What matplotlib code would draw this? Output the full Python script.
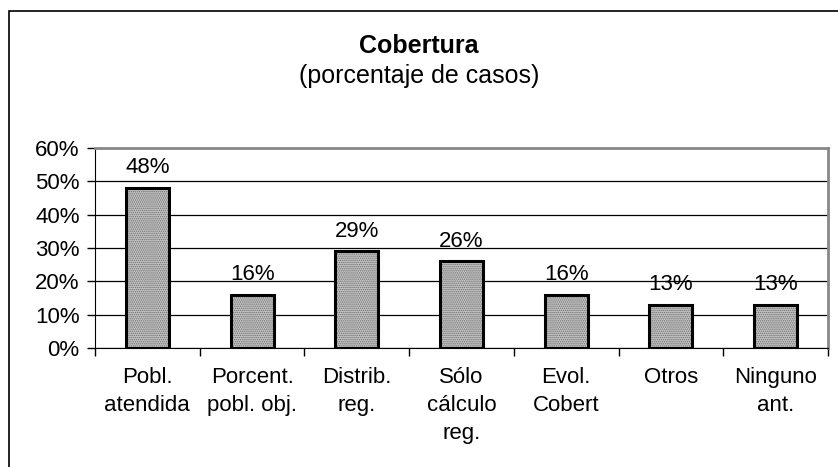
import matplotlib
matplotlib.use("Agg")
import matplotlib.pyplot as plt
from matplotlib.patches import Rectangle

categories = ["Pobl.\natendida", "Porcent.\npobl. obj.", "Distrib.\nreg.", "Sólo\ncálculo\nreg.",
              "Evol.\nCobert", "Otros", "Ninguno\nant."]
values = [48, 16, 29, 26, 16, 13, 13]
yticks = [0, 10, 20, 30, 40, 50, 60]

plt.rcParams['font.family'] = ['Liberation Sans', 'DejaVu Sans']
plt.rcParams['hatch.linewidth'] = 0.7
W, H = 838, 467
fig = plt.figure(figsize=(W/100, H/100), dpi=100)

# outer chart frame
fig.patches.append(Rectangle((9/W, -0.1), 1.2, (H-11)/H + 0.1, transform=fig.transFigure,
                             fill=False, edgecolor='black', linewidth=1.2))

ax = fig.add_axes([95/W, 1-348/H, (828-95)/W, 200/H])
x = list(range(len(values)))
ax.bar(x, values, width=0.41, color='#c4c4c4', edgecolor='#6e6e6e', linewidth=0,
       hatch='........', zorder=3)
ax.bar(x, values, width=0.41, fill=False, edgecolor='black', linewidth=2.2, zorder=4)
for xi, v in zip(x, values):
    ax.text(xi, v + 2.9, f"{v}%", ha='center', va='bottom', fontsize=16)

ax.set_xlim(-0.5, len(values)-0.5)
ax.set_ylim(0, 60)
ax.set_yticks(yticks)
ax.set_yticklabels([f"{t}%" for t in yticks], fontsize=16)
ax.yaxis.grid(True, color='black', linewidth=0.9, zorder=0)
ax.set_xticks([i+0.5 for i in range(-1, len(values))])
ax.set_xticklabels([])
ax.tick_params(axis='x', direction='out', length=6, width=1)
ax.tick_params(axis='y', direction='out', length=6, width=1, pad=5)
for xi, c in zip(x, categories):
    ax.text(xi, -0.095, c, transform=ax.get_xaxis_transform(), ha='center', va='top',
            fontsize=16, linespacing=1.45)

for s in ['top', 'right']:
    ax.spines[s].set_color('#888888')
    ax.spines[s].set_linewidth(2)
ax.spines['left'].set_color('black')
ax.spines['bottom'].set_color('black')
ax.spines['bottom'].set_zorder(5)

fig.text(0.5, 1-46/H, "Cobertura", ha='center', va='center', fontsize=18, fontweight='bold')
fig.text(0.5, 1-76/H, "(porcentaje de casos)", ha='center', va='center', fontsize=18)

fig.savefig("out.png", dpi=100)
